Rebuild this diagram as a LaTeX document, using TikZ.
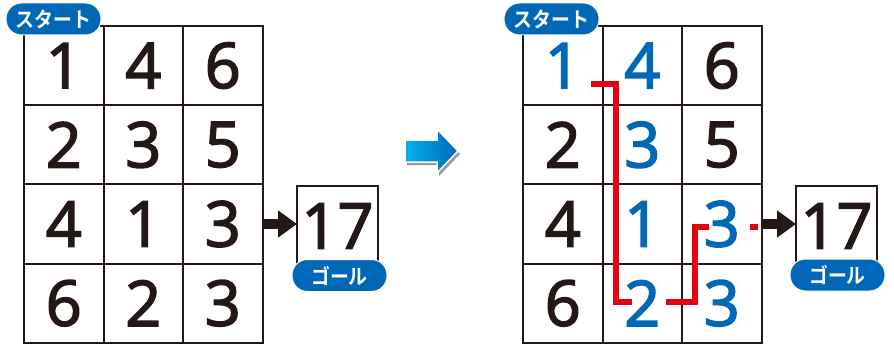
\documentclass[tikz,border=0pt]{standalone}
\usepackage{fontspec}
\setmainfont{Open Sans}
\newfontfamily\digitfont{Open Sans}[FakeBold=2.5]
\newfontfamily\jpfont{Noto Sans CJK JP}[BoldFont={Noto Sans CJK JP Bold}]
\usetikzlibrary{arrows.meta}
\definecolor{kblue}{HTML}{0068B7}
\definecolor{kred}{HTML}{E60012}
\definecolor{kblack}{HTML}{231815}
\definecolor{kcyan}{HTML}{00B4EE}
\newcommand{\jplabel}[1]{\scalebox{0.9}[1]{#1}}
\tikzset{
  cell/.style={draw=kblack, line width=2pt, minimum width=79.5pt, minimum height=79.2pt, inner sep=0pt, outer sep=0pt,
    font=\digitfont\fontsize{63}{63}\selectfont, text=kblack},
  bl/.style={text=kblue},
  pill/.style={fill=kblue, draw=white, line width=1pt, rounded corners=15.5pt, minimum width=95pt, minimum height=32pt, inner sep=0pt,
    text=white, font=\jpfont\bfseries\fontsize{21}{21}\selectfont},
  blackarrow/.style={draw=kblack, line width=10pt, -{Triangle[length=19pt,width=26pt]}, shorten >=0pt},
  redpath/.style={draw=kred, line width=6pt, line join=miter, line cap=butt},
}
\begin{document}
\begin{tikzpicture}[x=1pt,y=-1pt]
\useasboundingbox (0,0) rectangle (894,345);
% ---------- left grid ----------
\node[cell] (L11) at (63.75,65.6) {1};
\node[cell] (L12) at (143.25,65.6) {4};
\node[cell] (L13) at (222.75,65.6) {6};
\node[cell] (L21) at (63.75,144.8) {2};
\node[cell] (L22) at (143.25,144.8) {3};
\node[cell] (L23) at (222.75,144.8) {5};
\node[cell] (L31) at (63.75,224.0) {4};
\node[cell] (L32) at (143.25,224.0) {1};
\node[cell] (L33) at (222.75,224.0) {3};
\node[cell] (L41) at (63.75,303.2) {6};
\node[cell] (L42) at (143.25,303.2) {2};
\node[cell] (L43) at (222.75,303.2) {3};
\node[cell, minimum width=81pt, minimum height=80pt] (LG) at (337.5,226) {17};
\draw[blackarrow] (L33.east) -- (L33.east -| LG.west);
\node[pill] (LS) at (53.5,19) {\jplabel{スタート}};
\node[pill] (LGl) at (339.5,275.5) {\jplabel{ゴール}};
% ---------- middle arrow ----------
\coordinate (ma) at (405,140);
\fill[black!40] ([shift={(2,3)}]ma) -- ++(32,0) -- ++(0,-11) -- ++(21,22) -- ++(-21,22) -- ++(0,-11) -- ++(-32,0) -- cycle;
\shade[left color=kcyan, right color=kblue, draw=white, line width=1.5pt]
  (ma) -- ++(32,0) -- ++(0,-11) -- ++(21,22) -- ++(-21,22) -- ++(0,-11) -- ++(-32,0) -- cycle;
% ---------- right grid ----------
\node[cell] (R11) at (562.75,65.6) {};
\node[cell] (R12) at (642.25,65.6) {};
\node[cell] (R13) at (721.75,65.6) {6};
\node[cell] (R21) at (562.75,144.8) {2};
\node[cell] (R22) at (642.25,144.8) {};
\node[cell] (R23) at (721.75,144.8) {5};
\node[cell] (R31) at (562.75,224.0) {4};
\node[cell] (R32) at (642.25,224.0) {};
\node[cell] (R33) at (721.75,224.0) {};
\node[cell] (R41) at (562.75,303.2) {6};
\node[cell] (R42) at (642.25,303.2) {};
\node[cell] (R43) at (721.75,303.2) {};
\node[cell, minimum width=81pt, minimum height=80pt] (RG) at (836.5,226) {17};
% red route
\coordinate (a0) at (591,84);
\coordinate (a1) at (616,84);
\coordinate (a2) at (616,302);
\coordinate (a3) at (632,302);
\coordinate (b0) at (666,302);
\coordinate (b1) at (694.5,302);
\coordinate (b2) at (694.5,227);
\coordinate (b3) at (709,227);
\coordinate (c0) at (750,227);
\coordinate (c1) at (758,227);
\draw[redpath] (a0) -- (a1) -- (a2) -- (a3);
\draw[redpath] (b0) -- (b1) -- (b2) -- (b3);
\draw[redpath] (c0) -- (c1);
% blue digits
\node[cell, draw=none, bl] (R11d) at (R11) {1};
\node[cell, draw=none, bl] (R12d) at (R12) {4};
\node[cell, draw=none, bl] (R22d) at (R22) {3};
\node[cell, draw=none, bl] (R32d) at (R32) {1};
\node[cell, draw=none, bl] (R33d) at (R33) {3};
\node[cell, draw=none, bl] (R42d) at (R42) {2};
\node[cell, draw=none, bl] (R43d) at (R43) {3};
\draw[blackarrow] (R33.east) -- (R33.east -| RG.west);
\node[pill] (RS) at (551.5,19) {\jplabel{スタート}};
\node[pill] (RGl) at (837.5,275) {\jplabel{ゴール}};
\end{tikzpicture}
\end{document}
